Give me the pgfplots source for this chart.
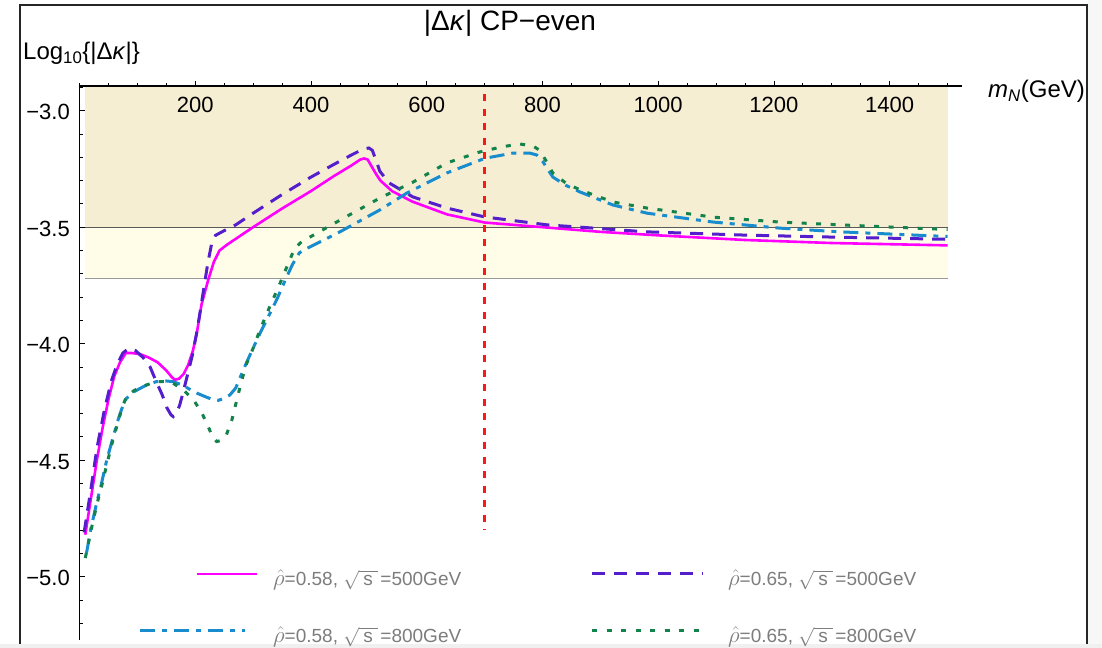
\documentclass[border=0pt]{standalone}
\usepackage{fix-cm}
\usepackage{fontspec}
\setmainfont{Liberation Sans}
\usepackage{graphicx}
\usepackage{pgfplots}
\pgfplotsset{compat=1.18}
\definecolor{cmag}{RGB}{255,0,255}
\definecolor{cpur}{RGB}{85,30,205}
\definecolor{cblu}{RGB}{25,140,205}
\definecolor{cgrn}{RGB}{20,130,75}
\definecolor{ctan}{RGB}{246,238,211}
\definecolor{cyel}{RGB}{255,253,232}
\definecolor{cleg}{RGB}{125,125,125}
\definecolor{cred}{RGB}{250,25,25}

\pgfplotstableread{
x y
10 -4.82
20 -4.66
30 -4.50
40 -4.36
50 -4.24
60 -4.14
70 -4.08
80 -4.04
90 -4.04
105 -4.045
120 -4.06
135 -4.08
150 -4.115
160 -4.145
165 -4.155
172 -4.15
180 -4.13
188 -4.09
196 -4.03
203 -3.95
211 -3.83
222 -3.73
232 -3.65
242 -3.60
255 -3.575
270 -3.55
300 -3.50
350 -3.42
400 -3.345
440 -3.28
470 -3.235
485 -3.21
492 -3.205
498 -3.21
505 -3.24
512 -3.27
520 -3.30
540 -3.345
575 -3.39
635 -3.445
700 -3.48
800 -3.50
900 -3.52
1000 -3.535
1150 -3.555
1300 -3.568
1500 -3.578
}\magtab

\pgfplotstableread{
x y
8 -4.81
20 -4.62
30 -4.45
43 -4.285
55 -4.16
65 -4.09
75 -4.04
85 -4.02
97 -4.03
110 -4.06
122 -4.10
133 -4.165
143 -4.22
151 -4.275
158 -4.305
162 -4.313
167 -4.30
173 -4.265
180 -4.20
188 -4.12
195 -4.05
202 -3.96
208 -3.87
215 -3.76
222 -3.65
228 -3.575
235 -3.535
250 -3.515
270 -3.49
300 -3.44
350 -3.36
400 -3.285
440 -3.23
470 -3.19
490 -3.165
500 -3.16
506 -3.17
512 -3.21
519 -3.26
535 -3.31
576 -3.37
635 -3.418
700 -3.456
808 -3.49
980 -3.52
1150 -3.534
1310 -3.543
1500 -3.552
}\purtab

\pgfplotstableread{
x y
12 -4.90
20 -4.79
30 -4.68
38 -4.60
47 -4.50
56 -4.42
65 -4.34
73 -4.28
81 -4.235
95 -4.205
116 -4.177
133 -4.163
150 -4.160
162 -4.163
180 -4.18
197 -4.206
215 -4.225
230 -4.24
240 -4.243
250 -4.235
260 -4.22
270 -4.19
283 -4.113
297 -4.035
312 -3.955
327 -3.88
341 -3.81
355 -3.73
368 -3.66
380 -3.61
390 -3.595
410 -3.57
450 -3.52
519 -3.426
566 -3.353
635 -3.267
701 -3.204
749 -3.182
778 -3.182
790 -3.19
801 -3.22
810 -3.255
818 -3.285
840 -3.32
865 -3.349
922 -3.405
981 -3.44
1095 -3.478
1210 -3.504
1314 -3.52
1500 -3.54
}\blutab

\pgfplotstableread{
x y
10 -4.92
20 -4.80
30 -4.69
38 -4.614
47 -4.52
56 -4.43
65 -4.35
73 -4.28
81 -4.227
95 -4.20
116 -4.177
133 -4.163
150 -4.162
162 -4.17
180 -4.20
197 -4.242
210 -4.29
220 -4.342
230 -4.40
237 -4.42
245 -4.415
254 -4.39
263 -4.33
272 -4.24
280 -4.16
289 -4.084
300 -4.02
312 -3.94
329 -3.84
345 -3.75
360 -3.66
372 -3.59
385 -3.56
400 -3.54
450 -3.47
519 -3.375
576 -3.307
635 -3.224
692 -3.177
730 -3.155
761 -3.143
784 -3.152
795 -3.17
805 -3.21
818 -3.268
840 -3.31
865 -3.34
922 -3.392
981 -3.418
1095 -3.457
1210 -3.478
1314 -3.49
1500 -3.51
}\grntab

\newcommand{\legtext}[2]{\scalebox{1.2}{$\hat{\rho}$}=#1, $\sqrt{\mbox{\hspace{0.22em}s\hspace{0.25em}}}$\hspace{0.15em}=#2GeV}

\begin{document}
\begin{tikzpicture}[x=1bp,y=1bp]
\path[use as bounding box] (0,0) rectangle (1102,648);
\fill[white] (0,0) rectangle (1102,648);
\begin{axis}[
  at={(79.5bp,8.4bp)}, anchor=south west,
  scale only axis, width=882.5bp, height=553.6bp,
  xmin=0, xmax=1525, ymin=-5.27, ymax=-2.894,
  axis x line=top, axis y line=left,
  axis line style={-, line width=1.1bp, black},
  axis on top,
  xtick={200,400,600,800,1000,1200,1400},
  xticklabels={200,400,600,800,1000,1200,1400},
  minor xtick={0,50,...,1500},
  ytick={-5,-4.5,-4,-3.5,-3},
  yticklabels={−5.0,−4.5,−4.0,−3.5,−3.0},
  minor ytick={-5.2,-5.1,...,-2.85},
  xtick align=outside, ytick align=inside,
  major tick length=5bp, minor tick length=3bp,
  every tick/.style={black, line width=0.8bp},
  ticklabel style={font=\fontsize{22bp}{24bp}\selectfont},
  xticklabel style={anchor=center, yshift=-23.5bp},
  yticklabel style={anchor=east, inner sep=0pt, xshift=-9.5bp, yshift=-1.5bp},
]
\addplot[draw=none, fill=ctan] coordinates {(10,-2.894) (1500,-2.894) (1500,-3.5) (10,-3.5)} -- cycle;
\addplot[draw=none, fill=cyel] coordinates {(10,-3.5) (1500,-3.5) (1500,-3.72) (10,-3.72)} -- cycle;
\addplot[line width=1bp, color=black!65] coordinates {(10,-3.5) (1500,-3.5)};
\addplot[line width=1.6bp, color=black!40] coordinates {(10,-3.72) (1500,-3.72)};

\addplot[cmag, line width=2.6bp] table[x=x,y=y] {\magtab};
\addplot[cpur, line width=3bp, dash pattern=on 13bp off 9bp] table[x=x,y=y] {\purtab};
\addplot[cblu, line width=3bp, dash pattern=on 15bp off 7bp on 5bp off 7bp] table[x=x,y=y] {\blutab};
\addplot[cgrn, line width=3bp, dash pattern=on 5bp off 9.5bp] table[x=x,y=y] {\grntab};

\addplot[cred, line width=3bp, dash pattern=on 7bp off 7.5bp] coordinates {(700,-2.93) (700,-4.80)};
\end{axis}

% frame
\draw[line width=1.6bp, black!85] (20,0) -- (20,643) -- (1087,643) -- (1087,0);
\fill[black!3] (1088,0) rectangle (1102,648);
\fill[black!6] (0,0) rectangle (1102,4);

% title and axis labels
\node[anchor=base, inner sep=0pt, font=\fontsize{28bp}{30bp}\selectfont] at (510,617) {|Δ\textit{κ}| CP−even};
\node[anchor=base west, inner sep=0pt, font=\fontsize{24bp}{26bp}\selectfont] at (23,588) {Log\textsubscript{10}\{|Δ\textit{κ}|\}};
\node[anchor=base west, inner sep=0pt, font=\fontsize{24bp}{26bp}\selectfont] at (988,550) {\textit{m}\textsubscript{\textit{N}}(GeV)};

% legend
\draw[cmag, line width=2.6bp] (197,74) -- (257,74);
\draw[cpur, line width=3bp, dash pattern=on 13bp off 9bp] (592,74) -- (703,74);
\draw[cblu, line width=3bp, dash pattern=on 15bp off 7bp on 5bp off 7bp] (140,17) -- (245,17);
\draw[cgrn, line width=3bp, dash pattern=on 5bp off 9.5bp] (592,17) -- (703,17);
\begin{scope}[every node/.style={anchor=base west, inner sep=0pt, text=cleg, font=\fontsize{19bp}{21bp}\selectfont}]
\node at (273,62) {\legtext{0.58}{500}};
\node at (728,62) {\legtext{0.65}{500}};
\node at (273,5) {\legtext{0.58}{800}};
\node at (728,5) {\legtext{0.65}{800}};
\end{scope}
\end{tikzpicture}
\end{document}
